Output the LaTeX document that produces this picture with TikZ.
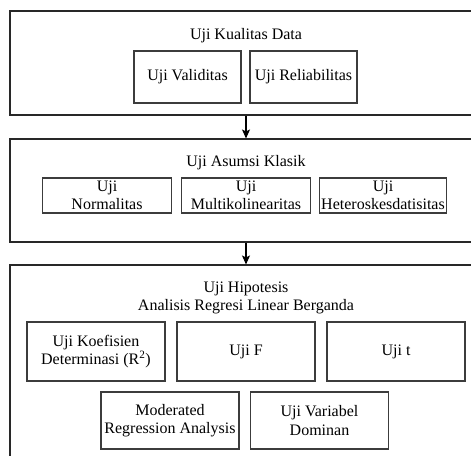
\documentclass[tikz,border=0pt]{standalone}
\usepackage{fontspec}
\setmainfont{Liberation Serif}
\usepackage{xcolor}
\usepackage{tikz}
\usetikzlibrary{arrows.meta,positioning}
\definecolor{boxline}{RGB}{40,40,40}
\definecolor{itemline}{RGB}{60,60,60}

\begin{document}
\begin{tikzpicture}[x=1pt, y=-1pt, >={Stealth[length=9pt,width=8pt,inset=2pt]},
    font=\fontsize{16}{18.5}\selectfont,
    group/.style={draw=boxline, line width=1.1pt, minimum width=472pt, inner sep=0pt},
    item/.style={draw=itemline, line width=1.1pt, align=center, inner sep=0pt},
    title/.style={align=center, inner sep=0pt}]
  \useasboundingbox (0,0) rectangle (471,455); % same canvas as the image

  % stage 1
  \node[group, minimum height=104pt] (kualitas) at (246,63) {};
  \node[title] (kualitasT) at (246,36) {Uji Kualitas Data};
  \node[item, minimum width=107pt, minimum height=52pt] (validitas) at (187.5,77) {Uji Validitas};
  \node[item, minimum width=107pt, minimum height=52pt] (reliabilitas) at (303.5,77) {Uji Reliabilitas};

  % stage 2
  \node[group, minimum height=103pt] (asumsi) at (246,190.5) {};
  \node[title] (asumsiT) at (246,163) {Uji Asumsi Klasik};
  \node[item, minimum width=129pt, minimum height=35pt] (normalitas) at (107,195.5) {Uji\\Normalitas};
  \node[item, minimum width=129pt, minimum height=35pt] (multiko) at (246,195.5) {Uji\\Multikolinearitas};
  \node[item, minimum width=127pt, minimum height=35pt] (hetero) at (383,195.5) {Uji\\Heteroskesdatisitas};

  % stage 3
  \node[group, minimum height=200pt] (hipotesis) at (246,365) {};
  \node[title] (hipotesisT) at (246,298) {Uji Hipotesis\\Analisis Regresi Linear Berganda};
  \node[item, minimum width=138pt, minimum height=59pt] (koefisien) at (96,351.5) {Uji Koefisien\\Determinasi (R\textsuperscript{2})};
  \node[item, minimum width=138pt, minimum height=59pt] (ujiF) at (246,351.5) {Uji F};
  \node[item, minimum width=138pt, minimum height=59pt] (ujiT) at (396,351.5) {Uji t};
  \node[item, minimum width=138pt, minimum height=57pt] (mra) at (170,420.5) {Moderated\\Regression Analysis};
  \node[item, minimum width=138pt, minimum height=57pt] (dominan) at (319.5,420.5) {Uji Variabel\\Dominan};

  \draw[->, black, line width=1.2pt] (kualitas.south) -- (asumsi.north);
  \draw[->, black, line width=1.2pt] (asumsi.south) -- (hipotesis.north);

\end{tikzpicture}
\end{document}
